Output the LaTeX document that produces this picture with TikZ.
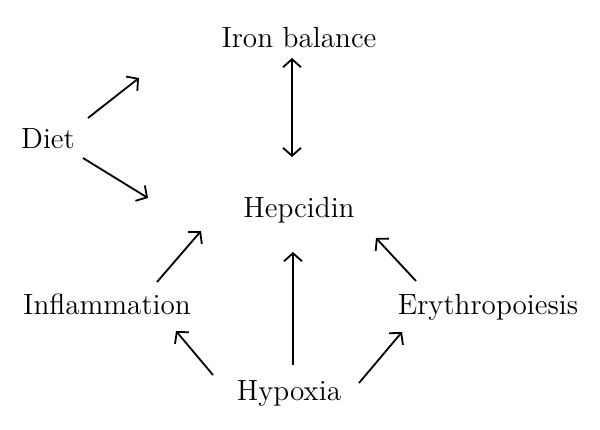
\documentclass[tikz,border=0pt]{standalone}
\usetikzlibrary{arrows.meta}
\begin{document}
\begin{tikzpicture}[x=0.5pt,y=-0.5pt,>={Straight Barb[length=4pt,width=9pt]},line width=0.9pt,factor node/.style={inner sep=0pt,anchor=base,font=\fontsize{14.6}{17}\selectfont}]
            \useasboundingbox (0,0) rectangle (600,429);

            \node[factor node] (iron) at (299,47) {Iron balance};
            \node[factor node] (diet) at (48,148) {Diet};
            \node[factor node] (hep) at (299,217) {Hepcidin};
            \node[factor node] (infl) at (107,314) {Inflammation};
            \node[factor node] (eryth) at (488,314) {Erythropoiesis};
            \node[factor node] (hyp) at (289,400) {Hypoxia};

            \coordinate (iron tip) at (292,58);
            \coordinate (hep top) at (292,157);
            \coordinate (diet up) at (88,118);
            \coordinate (diet up tip) at (139,78);
            \coordinate (diet down) at (83,158);
            \coordinate (diet down tip) at (148,198);
            \coordinate (infl out) at (157,282);
            \coordinate (infl tip) at (201,231);
            \coordinate (hyp up) at (293,365);
            \coordinate (hyp tip) at (293,252);
            \coordinate (eryth out) at (416,281);
            \coordinate (eryth tip) at (376,238);
            \coordinate (hyp left) at (213,375);
            \coordinate (hyp left tip) at (176,331);
            \coordinate (hyp right) at (359,383);
            \coordinate (hyp right tip) at (402,332);

            \path[->]
                (iron tip) edge[<->] (hep top)
                (diet up) edge (diet up tip)
                (diet down) edge (diet down tip)
                (infl out) edge (infl tip)
                (hyp up) edge (hyp tip)
                (eryth out) edge (eryth tip)
                (hyp left) edge (hyp left tip)
                (hyp right) edge (hyp right tip)
            ;
            \end{tikzpicture}
\end{document}
